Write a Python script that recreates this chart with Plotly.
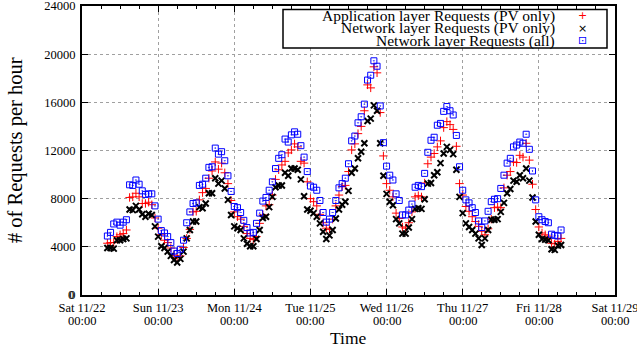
import plotly.graph_objects as go
import pandas as pd

# ---- data (hourly, starting Sat 2014-11-22 08:00) ----
app_pv = [
    4300, 4350, 4350, 4850, 5000, 5100, 5400, 8100, 8150, 8450, 8150, 7600, 7600, 7700, 7500, 6400,
    5550, 5000, 4550, 4350, 3900, 3300, 3100, 3250, 3950, 4700, 5450, 6900, 6950, 7900, 8500, 8850, 9700, 10300, 11050, 10450, 10950, 10150, 9250, 7850,
    6900, 6500, 6300, 5700, 5100, 4700, 4600, 4850, 5950, 6650, 7400, 7500, 8300, 9600, 10400, 10800, 11100, 11800, 12050, 12550, 12300, 11100, 10950, 9400,
    8000, 7750, 7400, 6700, 6000, 5550, 5450, 6300, 7400, 8300, 9000, 9100, 10250, 12050, 12550, 13400, 14000, 15300, 17450, 17200, 18950, 18450, 15150, 11550,
    9250, 8700, 8150, 6800, 6350, 5650, 5550, 6000, 6900, 8150, 8250, 8150, 9300, 10900, 11450, 11750, 12300, 12800, 13900, 14400, 14150, 13750, 12350, 9250,
    8300, 7350, 6950, 6500, 6100, 5700, 5300, 5000, 5500, 6300, 7250, 7300, 7250, 8900, 9950, 10250, 11050, 11000, 11600, 11450, 12600, 11200, 9200, 7100,
    5650, 5150, 5000, 4900, 4300, 4250, 4450, 4700,
]
net_pv = [
    3900, 3900, 3850, 4550, 4550, 4650, 4700, 7100, 7050, 7400, 7100, 6700, 6500, 6750, 6650, 5700,
    4850, 4050, 3900, 3600, 3250, 2900, 2700, 3000, 3600, 4700, 5400, 6100, 6100, 7300, 7200, 7600, 8450, 8450, 9700, 9250, 9500, 8850, 7900, 6650,
    5700, 5550, 5400, 4700, 4250, 4050, 4050, 4650, 5400, 6400, 6500, 7300, 8150, 8950, 9100, 9100, 10150, 9900, 10500, 10500, 10400, 9600, 8200, 7100,
    7000, 6800, 6500, 5950, 5250, 4650, 4950, 5400, 6350, 7100, 7500, 7750, 8650, 10150, 10500, 11350, 11900, 12600, 14450, 14650, 15750, 15300, 12600, 9900,
    8400, 7750, 7450, 6300, 5950, 5100, 5100, 5600, 6300, 7150, 7200, 7150, 7950, 9250, 9300, 9950, 10200, 10950, 11750, 12300, 12050, 11700, 10400, 8150,
    6800, 5950, 5650, 5400, 5100, 4700, 4150, 4700, 5400, 6250, 6250, 6300, 6900, 7650, 8450, 8800, 9500, 9400, 9950, 9700, 10500, 9500, 8100, 6100,
    5000, 4650, 4600, 4550, 3800, 3750, 4100, 4150,
]
net_all = [
    4900, 5200, 5900, 6050, 5800, 6050, 6250, 9150, 9100, 9550, 9200, 8650, 8350, 8400, 8400, 7400,
    6300, 5350, 5150, 4850, 4350, 3650, 3450, 3800, 4550, 6000, 6900, 7600, 7650, 9100, 9200, 9700, 10600, 10650, 12200, 11700, 11900, 11150, 9900, 8600,
    7350, 7250, 6850, 6200, 5600, 5150, 5200, 5950, 6800, 7800, 8100, 8700, 9400, 10500, 11350, 11650, 12950, 12700, 13300, 13550, 13350, 12400, 11450, 10250,
    9050, 8950, 8700, 7850, 6850, 6050, 6300, 6850, 7850, 8900, 9250, 9700, 10900, 12800, 13200, 14300, 14800, 15850, 17850, 18250, 19450, 19000, 15700, 12650,
    10700, 9950, 9550, 8400, 7850, 6650, 6650, 7050, 7550, 8950, 9100, 9000, 10100, 11850, 12850, 13100, 14100, 14250, 15250, 15650, 15300, 14950, 13250, 10650,
    8700, 7900, 7650, 7250, 6850, 6150, 5600, 6150, 6950, 7750, 7950, 8000, 8850, 9950, 10950, 11350, 12300, 12450, 12700, 12600, 13350, 12100, 10300, 7900,
    6500, 6250, 6100, 6000, 5050, 4950, 4900, 5400,
]
series_names = [
    "Application layer Requests (PV only)",
    "Network layer Requests (PV only)",
    "Network layer Requests (all)",
]
day_ticks = ["2014-11-22", "2014-11-23", "2014-11-24", "2014-11-25",
             "2014-11-26", "2014-11-27", "2014-11-28", "2014-11-29"]
day_labels = ["Sat 11/22", "Sun 11/23", "Mon 11/24", "Tue 11/25",
              "Wed 11/26", "Thu 11/27", "Fri 11/28", "Sat 11/29"]
time_label = "00:00"
y_ticks = [0, 4000, 8000, 12000, 16000, 20000, 24000]

times = pd.date_range("2014-11-22 08:00", periods=len(net_all), freq="h")

SERIF = "Liberation Serif"
fig = go.Figure()
fig.add_trace(go.Scatter(x=times, y=app_pv, mode="markers", name=series_names[0],
                         marker=dict(symbol="cross-thin-open", size=6, color="#ff0000",
                                     line=dict(color="#ff0000", width=1))))
fig.add_trace(go.Scatter(x=times, y=net_pv, mode="markers", name=series_names[1],
                         marker=dict(symbol="x-thin-open", size=6, color="#000000",
                                     line=dict(color="#000000", width=2))))
fig.add_trace(go.Scatter(x=times, y=net_all, mode="markers", name=series_names[2],
                         marker=dict(symbol="square-open-dot", size=6, color="#0000ff",
                                     line=dict(color="#0000ff", width=1))))

axis_common = dict(
    ticks="inside", ticklen=6, tickwidth=1, tickcolor="black", mirror="allticks",
    showline=True, linecolor="black", linewidth=2,
    showgrid=True, gridcolor="#a0a0a0", griddash="dot", gridwidth=1,
    zeroline=False, tickfont=dict(family=SERIF, size=12.5, color="black"),
    automargin=False, ticklabeloverflow="allow",
)
fig.update_xaxes(type="date", range=[day_ticks[0], day_ticks[-1]],
                 tickmode="array", tickvals=day_ticks, ticktext=day_labels,
                 minor=dict(tick0=day_ticks[0], dtick=6 * 3600 * 1000, ticks="inside",
                            ticklen=3, tickcolor="black", showgrid=False),
                 **axis_common)
fig.update_yaxes(range=[0, 24000], tickmode="array", tickvals=y_ticks,
                 ticktext=[str(v) for v in y_ticks], ticklabelstandoff=2, **axis_common)

PLOT_H = 289.0
def py(pix):
    return (295.0 - pix) / PLOT_H

annotations = []
# bottom-left "0" label (drawn as annotation at y = first tick value)
annotations.append(dict(x=-(82 - 76) / 533.0, xref="paper", y=y_ticks[0], yref="y",
                        text=str(y_ticks[0]), showarrow=False, xanchor="right",
                        yanchor="middle", font=dict(family=SERIF, size=12.5, color="black")))
for t in day_ticks:
    annotations.append(dict(x=t, xref="x", y=py(321), yref="paper", text=time_label,
                            showarrow=False, xanchor="center", yanchor="middle",
                            font=dict(family=SERIF, size=12.5, color="black")))
annotations.append(dict(x=0.5, xref="paper", y=py(338), yref="paper", text="Time",
                        showarrow=False, xanchor="center", yanchor="middle",
                        font=dict(family=SERIF, size=17.5, color="black")))
annotations.append(dict(x=-(82 - 15) / 533.0, xref="paper", y=py(150), yref="paper",
                        text="# of Requests per hour", textangle=-90,
                        showarrow=False, xanchor="center", yanchor="middle",
                        font=dict(family=SERIF, size=20.5, color="black")))
# key
key_rows = [16, 28.5, 41]
key_syms = ["+", "×", "⊡"]
key_cols = ["#ff0000", "#000000", "#0000ff"]
for name, ypix, sym, col in zip(series_names, key_rows, key_syms, key_cols):
    annotations.append(dict(x=(557 - 82) / 533.0, xref="paper", y=py(ypix), yref="paper",
                            text=name, showarrow=False, xanchor="right", yanchor="middle",
                            font=dict(family=SERIF, size=15.5, color="black")))
    annotations.append(dict(x=(582 - 82) / 533.0, xref="paper", y=py(ypix), yref="paper",
                            text=sym, showarrow=False, xanchor="center", yanchor="middle",
                            font=dict(family="DejaVu Sans", size=11, color=col)))

fig.update_layout(
    width=637, height=351,
    margin=dict(l=82, r=22, t=6, b=56),
    paper_bgcolor="white", plot_bgcolor="white",
    showlegend=False,
    annotations=annotations,
    shapes=[dict(type="rect", xref="paper", yref="paper",
                 x0=(283 - 82) / 533.0, x1=(607 - 82) / 533.0,
                 y0=py(48), y1=py(9.5), line=dict(color="black", width=1.5),
                 fillcolor="white", layer="above")],
)
fig.write_html("out.html")
